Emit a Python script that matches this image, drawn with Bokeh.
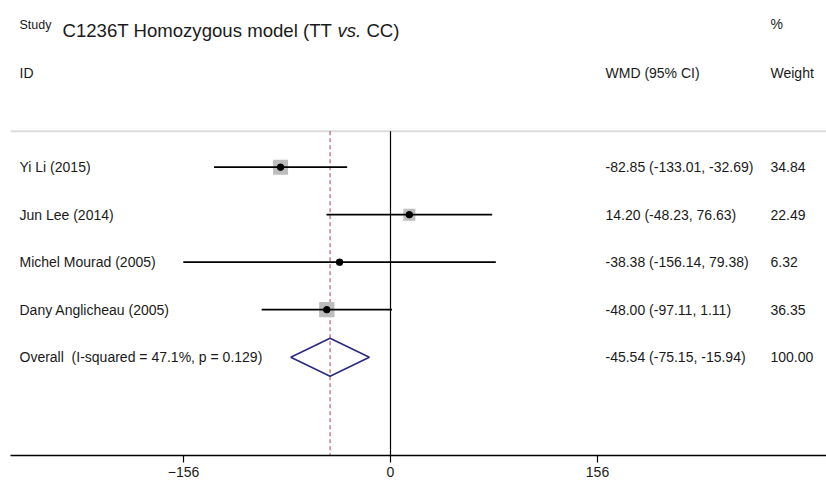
from bokeh.plotting import figure
from bokeh.models import Range1d, FixedTicker, ColumnDataSource
from bokeh.core.properties import value
from bokeh.embed import file_html
from bokeh.resources import INLINE
import math

# ---------------- data ----------------
studies = ["Yi Li (2015)", "Jun Lee (2014)", "Michel Mourad (2005)", "Dany Anglicheau (2005)"]
est = [-82.85, 14.20, -38.38, -48.00]
lo = [-133.01, -48.23, -156.14, -97.11]
hi = [-32.69, 76.63, 79.38, 1.11]
weights = [34.84, 22.49, 6.32, 36.35]

overall_name = "Overall"
overall_stats = "(I-squared = 47.1%, p = 0.129)"
overall_est = -45.54
overall_lo = -75.15
overall_hi = -15.94
overall_weight = 100.00

x_ticks = [-156, 0, 156]

title_parts = ["C1236T Homozygous model (TT", "vs.", "CC)"]

# ---------------- layout constants ----------------
W, H = 826, 480
FRAME_LEFT = 10
FRAME_BOTTOM_PX = 455
ZERO_PX = 390.0
PX_PER_UNIT = 414.0 / 312.0
ROW0_PX = 166.7
ROW_STEP = 47.5
FONT = value("Liberation Sans")
TXT = "#1a1a1a"
TITLE_FS = 18.6

def xd(px):
    return (px - ZERO_PX) / PX_PER_UNIT

def yd(px):
    return (px - ROW0_PX) / ROW_STEP

p = figure(width=W, height=H, output_backend="svg", toolbar_location=None,
           x_range=Range1d(xd(FRAME_LEFT), xd(W)),
           y_range=Range1d(yd(FRAME_BOTTOM_PX), yd(0)),
           min_border_left=FRAME_LEFT, min_border_right=0, min_border_top=0,
           min_border_bottom=H - FRAME_BOTTOM_PX)
p.outline_line_color = None
p.xgrid.visible = False
p.ygrid.visible = False
p.yaxis.visible = False
p.background_fill_color = "white"
p.border_fill_color = "white"

ax = p.xaxis[0]
ax.ticker = FixedTicker(ticks=x_ticks)
ax.minor_tick_line_color = None
ax.major_tick_in = 0
ax.major_tick_out = 7
ax.major_tick_line_width = 1.2
ax.axis_line_width = 1.5
ax.axis_line_color = "black"
ax.major_label_text_font = "Liberation Sans"
ax.major_label_text_font_size = "14px"
ax.major_label_text_color = TXT
ax.major_label_standoff = 4

n = len(studies)
rows = list(range(n))
top_line_y = yd(130.7)
bottom_y = yd(FRAME_BOTTOM_PX)

# header separator
p.segment(x0=[xd(FRAME_LEFT)], x1=[xd(W)], y0=[top_line_y], y1=[top_line_y],
          line_color="#dcdcdc", line_width=2)

# zero line & overall dashed line
p.segment(x0=[0], x1=[0], y0=[top_line_y], y1=[bottom_y], line_color="black", line_width=1.2)
p.segment(x0=[overall_est], x1=[overall_est], y0=[top_line_y], y1=[bottom_y],
          line_color="#b03a56", line_width=1, line_dash="4 3")

# squares (area proportional to weight)
sizes = [2.54 * math.sqrt(w) for w in weights]
p.rect(x=est, y=rows, width=sizes, height=sizes, width_units="screen", height_units="screen",
       fill_color="#bdbdbd", line_color=None)

# CI lines
p.segment(x0=lo, x1=hi, y0=rows, y1=rows, line_color="black", line_width=1.7)

# point estimates
p.scatter(x=est, y=rows, marker="circle", size=6.5, fill_color="black", line_color="black")

# overall diamond
oy = n
dh = 19.0 / ROW_STEP
p.patch(x=[overall_lo, overall_est, overall_hi, overall_est, overall_lo],
        y=[oy, oy - dh, oy, oy + dh, oy],
        fill_color=None, line_color="#2b2b7f", line_width=1.6)

# row texts
ci_text = [f"{e:.2f} ({l:.2f}, {h:.2f})" for e, l, h in zip(est, lo, hi)] + \
          [f"{overall_est:.2f} ({overall_lo:.2f}, {overall_hi:.2f})"]
w_text = [f"{w:.2f}" for w in weights] + [f"{overall_weight:.2f}"]
ys = list(range(n + 1))

common = dict(text_font=FONT, text_font_size="14px", text_color=TXT,
              text_baseline="middle", text_align="left")
src = ColumnDataSource(dict(y=rows, lab=studies))
p.text(x=xd(19), y="y", text="lab", source=src, **common)
p.text(x=[xd(19)], y=[n], text=[overall_name], **common)
p.text(x=[xd(19 + 3.723 * 14)], y=[n], text=[overall_stats], **common)
src2 = ColumnDataSource(dict(y=ys, ci=ci_text, w=w_text))
p.text(x=xd(605), y="y", text="ci", source=src2, **common)
p.text(x=xd(770), y="y", text="w", source=src2, **common)

# headers
p.text(x=[xd(19)], y=[yd(24)], text=["Study"], text_font=FONT, text_font_size="12.5px",
       text_color=TXT, text_baseline="middle")
tx0 = 62
tx1 = tx0 + 14.782 * TITLE_FS
tx2 = tx1 + (1.278 + 0.278) * TITLE_FS
p.text(x=[xd(tx0)], y=[yd(30)], text=[title_parts[0]], text_font=FONT,
       text_font_size=f"{TITLE_FS}px", text_color=TXT, text_baseline="middle")
p.text(x=[xd(tx1)], y=[yd(30)], text=[title_parts[1]], text_font=FONT,
       text_font_size=f"{TITLE_FS}px", text_font_style="italic", text_color=TXT,
       text_baseline="middle")
p.text(x=[xd(tx2)], y=[yd(30)], text=[title_parts[2]], text_font=FONT,
       text_font_size=f"{TITLE_FS}px", text_color=TXT, text_baseline="middle")
p.text(x=[xd(770)], y=[yd(23)], text=["%"], text_font=FONT, text_font_size="14px",
       text_color=TXT, text_baseline="middle")
p.text(x=[xd(19), xd(605), xd(770)], y=[yd(72)] * 3, text=["ID", "WMD (95% CI)", "Weight"],
       text_font=FONT, text_font_size="14px", text_color=TXT, text_baseline="middle")

open("out.html", "w").write(file_html(p, INLINE))
